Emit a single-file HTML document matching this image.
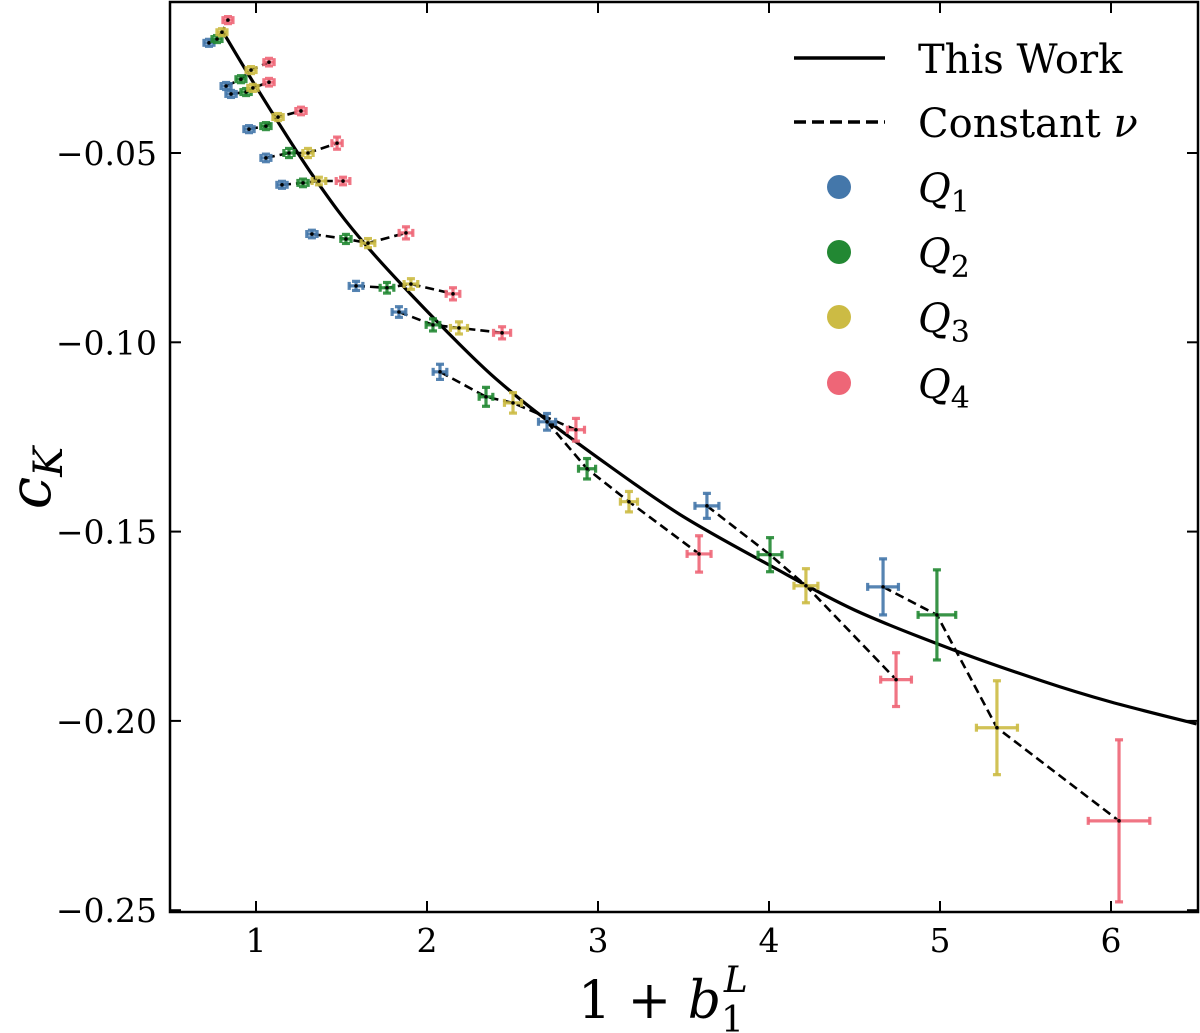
<!DOCTYPE html>
<html><head><meta charset="utf-8"><style>
body{margin:0;background:#fff}
svg{display:block}
text{font-family:"DejaVu Serif","Liberation Serif",serif;fill:#000}
</style></head><body>
<svg id="chart" width="1200" height="1033" viewBox="0 0 1200 1033" xmlns="http://www.w3.org/2000/svg">
<g id="marks"></g>
<g id="axes"></g>
<g id="legend">
  <line x1="794" y1="58" x2="885" y2="58" stroke="#000" stroke-width="3.5"/>
  <text x="918" y="73" font-size="40">This Work</text>
  <line x1="794" y1="122" x2="885" y2="122" stroke="#000" stroke-width="3.5" stroke-dasharray="12,6"/>
  <text x="918" y="137" font-size="40">Constant <tspan font-style="italic">ν</tspan></text>
  <circle cx="839" cy="187" r="12" fill="#4477AA"/>
  <text x="918" y="202" font-size="40" font-style="italic">Q<tspan font-style="normal" font-size="30" dy="10">1</tspan></text>
  <circle cx="839" cy="252" r="12" fill="#228833"/>
  <text x="918" y="267" font-size="40" font-style="italic">Q<tspan font-style="normal" font-size="30" dy="10">2</tspan></text>
  <circle cx="839" cy="317" r="12" fill="#CCBB44"/>
  <text x="918" y="332" font-size="40" font-style="italic">Q<tspan font-style="normal" font-size="30" dy="10">3</tspan></text>
  <circle cx="839" cy="383" r="12" fill="#EE6677"/>
  <text x="918" y="398" font-size="40" font-style="italic">Q<tspan font-style="normal" font-size="30" dy="10">4</tspan></text>
</g>
<text x="578" y="1018" font-size="52">1 + <tspan font-style="italic">b</tspan><tspan font-size="36" dy="14">1</tspan><tspan font-size="36" font-style="italic" dx="-20" dy="-40">L</tspan></text>
<text transform="translate(50,478) rotate(-90)" text-anchor="middle" font-size="58" font-style="italic">c<tspan font-size="40" dy="12">K</tspan></text>
</svg>
<script>
// Data: 13 constant-nu groups, each with Q1..Q4
const q1x=[0.725,0.825,0.854,0.959,1.058,1.152,1.327,1.585,1.836,2.076,2.702,3.637,4.667];
const q1y=[-0.0209,-0.0323,-0.0344,-0.0437,-0.0513,-0.0584,-0.0714,-0.0851,-0.0920,-0.1078,-0.1210,-0.1432,-0.1646];
const q2x=[0.772,0.912,0.942,1.058,1.193,1.275,1.526,1.766,2.035,2.345,2.936,4.006,4.982];
const q2y=[-0.0199,-0.0305,-0.0339,-0.0429,-0.0500,-0.0579,-0.0727,-0.0856,-0.0954,-0.1144,-0.1334,-0.1561,-0.1720];
const q3x=[0.801,0.971,0.982,1.129,1.304,1.368,1.655,1.906,2.187,2.503,3.181,4.216,5.333];
const q3y=[-0.0181,-0.0281,-0.0328,-0.0405,-0.0500,-0.0574,-0.0738,-0.0846,-0.0962,-0.1160,-0.1421,-0.1643,-0.2018];
const q4x=[0.836,1.076,1.076,1.263,1.474,1.509,1.877,2.152,2.439,2.871,3.591,4.743,6.047];
const q4y=[-0.0149,-0.0260,-0.0313,-0.0389,-0.0474,-0.0574,-0.0711,-0.0872,-0.0975,-0.1231,-0.1559,-0.1891,-0.2264];
const q1xe=[0.02,0.02,0.03,0.03,0.02,0.03,0.03,0.04,0.04,0.04,0.05,0.07,0.09];
const q1ye=[0.0008,0.0008,0.0008,0.0008,0.0010,0.0008,0.0010,0.0012,0.0014,0.0020,0.0022,0.0033,0.0074];
const q2xe=[0.02,0.02,0.03,0.03,0.03,0.03,0.03,0.04,0.04,0.04,0.05,0.07,0.11];
const q2ye=[0.0008,0.0008,0.0008,0.0008,0.0012,0.0010,0.0012,0.0014,0.0016,0.0025,0.0027,0.0045,0.0119];
const q3xe=[0.02,0.02,0.03,0.03,0.03,0.04,0.04,0.04,0.05,0.05,0.05,0.07,0.12];
const q3ye=[0.0008,0.0008,0.0008,0.0008,0.0012,0.0010,0.0012,0.0014,0.0016,0.0027,0.0027,0.0045,0.0124];
const q4xe=[0.02,0.03,0.03,0.03,0.03,0.04,0.04,0.04,0.05,0.05,0.07,0.09,0.18];
const q4ye=[0.0008,0.0010,0.0010,0.0010,0.0016,0.0010,0.0016,0.0016,0.0016,0.0030,0.0048,0.0071,0.0214];
// "This Work" curve samples
const curveX=[0.80,1.0,1.333,1.655,2.19,2.544,3.0,3.48,4.0,4.5,5.076,5.6,6.0,6.5];
const curveY=[-0.0175,-0.0325,-0.0560,-0.0750,-0.1005,-0.1150,-0.1305,-0.1455,-0.1588,-0.1707,-0.1812,-0.1895,-0.1950,-0.2008];
const xTicks=[1,2,3,4,5,6];
const xTickLabels=["1","2","3","4","5","6"];
const yTicks=[-0.05,-0.10,-0.15,-0.20,-0.25];
const yTickLabels=["−0.05","−0.10","−0.15","−0.20","−0.25"];
const colors=["#4477AA","#228833","#CCBB44","#EE6677"];

const L=170,R=1198,T=2,B=912;
function X(v){return 256+(v-1)*171;}
function Y(v){return 153+(-0.05-v)*3786;}
const NS="http://www.w3.org/2000/svg";
function mk(tag,attrs,parent){const e=document.createElementNS(NS,tag);for(const k in attrs)e.setAttribute(k,attrs[k]);parent.appendChild(e);return e;}
const marks=document.getElementById('marks');
const axes=document.getElementById('axes');

const defs=mk('defs',{},document.getElementById('chart'));
const cp=mk('clipPath',{id:'clip'},defs);
mk('rect',{x:L,y:T,width:R-L,height:B-T},cp);
marks.setAttribute('clip-path','url(#clip)');

const P=curveX.map((v,i)=>[X(v),Y(curveY[i])]);
let d='M'+P[0][0].toFixed(1)+','+P[0][1].toFixed(1);
for(let i=0;i<P.length-1;i++){
  const p0=P[Math.max(0,i-1)],p1=P[i],p2=P[i+1],p3=P[Math.min(P.length-1,i+2)];
  const c1=[p1[0]+(p2[0]-p0[0])/6,p1[1]+(p2[1]-p0[1])/6];
  const c2=[p2[0]-(p3[0]-p1[0])/6,p2[1]-(p3[1]-p1[1])/6];
  d+='C'+c1[0].toFixed(1)+','+c1[1].toFixed(1)+' '+c2[0].toFixed(1)+','+c2[1].toFixed(1)+' '+p2[0].toFixed(1)+','+p2[1].toFixed(1);
}
const cur=mk('path',{d:d,fill:'none',stroke:'#000','stroke-width':3.2},marks);



const XS=[q1x,q2x,q3x,q4x],YS=[q1y,q2y,q3y,q4y],XE=[q1xe,q2xe,q3xe,q4xe],YE=[q1ye,q2ye,q3ye,q4ye];
for(let g=0;g<q1x.length;g++){
  let p='';
  for(let s=0;s<4;s++){p+=(s?'L':'M')+X(XS[s][g]).toFixed(1)+','+Y(YS[s][g]).toFixed(1);}
  const pl=mk('path',{d:p,fill:'none',stroke:'#000','stroke-width':2.6,'stroke-dasharray':'9,5'},marks);
  
  
}
for(let s=0;s<4;s++){
  for(let g=0;g<q1x.length;g++){
    const cx=X(XS[s][g]),cy=Y(YS[s][g]);
    const ex=Math.max(XE[s][g]*171,5),ey=Math.max(YE[s][g]*3786,3.5);
    const grp=mk('g',{stroke:colors[s],'stroke-width':3.2,'stroke-opacity':0.9,fill:'none'},marks);
    
    
    mk('line',{x1:cx-ex,y1:cy,x2:cx+ex,y2:cy},grp);
    mk('line',{x1:cx,y1:cy-ey,x2:cx,y2:cy+ey},grp);
    mk('line',{x1:cx-ex,y1:cy-4,x2:cx-ex,y2:cy+4},grp);
    mk('line',{x1:cx+ex,y1:cy-4,x2:cx+ex,y2:cy+4},grp);
    mk('line',{x1:cx-4,y1:cy-ey,x2:cx+4,y2:cy-ey},grp);
    mk('line',{x1:cx-4,y1:cy+ey,x2:cx+4,y2:cy+ey},grp);
    const dot=mk('circle',{cx:cx,cy:cy,r:1.8,fill:'#000'},marks);
    
    
  }
}
const fr=mk('rect',{x:L,y:T,width:R-L,height:B-T,fill:'none',stroke:'#000','stroke-width':2.5},axes);


xTicks.forEach((v,i)=>{
  const x=X(v);
  const t1=mk('line',{x1:x,y1:B,x2:x,y2:B-11,stroke:'#000','stroke-width':2},axes);
  
  
  const t2=mk('line',{x1:x,y1:T,x2:x,y2:T+11,stroke:'#000','stroke-width':2},axes);
  
  
  const lb=mk('text',{x:x,y:952},axes);
  lb.setAttribute('text-anchor','middle');
  lb.setAttribute('font-size','33');
  lb.textContent=xTickLabels[i];
  
  
});
yTicks.forEach((v,i)=>{
  const y=Y(v);
  const t1=mk('line',{x1:L,y1:y,x2:L+11,y2:y,stroke:'#000','stroke-width':2},axes);
  
  
  const t2=mk('line',{x1:R,y1:y,x2:R-11,y2:y,stroke:'#000','stroke-width':2},axes);
  
  
  const lb=mk('text',{x:157,y:y+12},axes);
  lb.setAttribute('text-anchor','end');
  lb.setAttribute('font-size','33');
  lb.textContent=yTickLabels[i];
  
  
});
</script>
</body></html>
